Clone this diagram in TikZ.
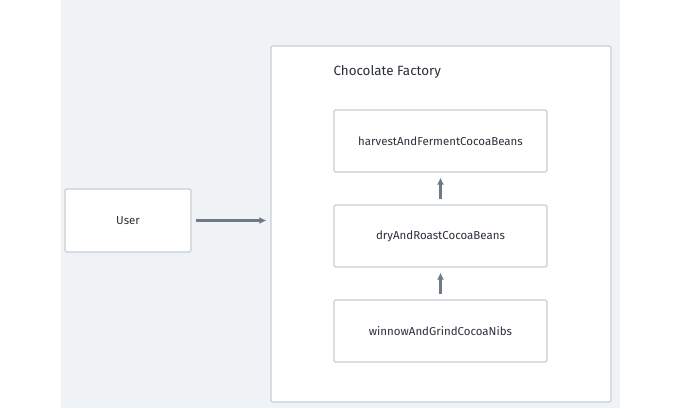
\documentclass[tikz,border=0pt]{standalone}
\usepackage{fontspec}
\setmainfont{Fira Sans}
\usetikzlibrary{positioning}
\usetikzlibrary{arrows.meta}
\tikzset{>={Latex[width=7pt,length=7pt]}}
\definecolor{bgray}{HTML}{F0F3F6}
\definecolor{edge}{HTML}{C8CFD7}
\definecolor{arr}{HTML}{6E7A87}
\definecolor{txt}{HTML}{2B313A}
\tikzset{
	box/.style={draw=edge, line width=1.2pt, fill=white, rounded corners=1.5pt, text=txt, font=\fontsize{11.5}{13}\selectfont},
	link/.style={draw=arr, line width=2.2pt, ->}
}

\begin{document}
\begin{tikzpicture}[x=1pt,y=-1pt]
	\useasboundingbox (0,0) rectangle (680,408);
	\fill[bgray] (61,0) rectangle (620,408);
	\node (CF) [box, minimum width=340pt, minimum height=356pt] at (441,224) {};
	\node (TITLE) [anchor=west, text=txt, font=\fontsize{13.4}{15}\selectfont] at (330,72) {Chocolate Factory};
	\node (USER) [box, minimum width=126pt, minimum height=63pt] at (128,220.5) {User};
	\node (HARV) [box, minimum width=213pt, minimum height=62pt] at (440.5,141) {harvestAndFermentCocoaBeans};
	\node (DRY) [box, minimum width=213pt, minimum height=62pt, below=31.8pt of HARV] {dryAndRoastCocoaBeans};
	\node (WIN) [box, minimum width=213pt, minimum height=62pt, below=31.8pt of DRY] {winnowAndGrindCocoaNibs};

	\path [link, shorten <=4pt, shorten >=4pt] (USER) -- (USER -| CF.west);
	\path [link, shorten <=5pt, shorten >=5pt] (WIN) -- (DRY);
	\path [link, shorten <=5pt, shorten >=5pt] (DRY) -- (HARV);
\end{tikzpicture}
\end{document}
